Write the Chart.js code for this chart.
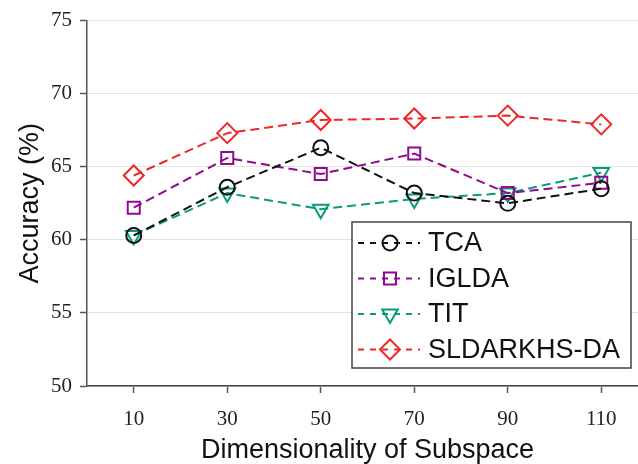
<!DOCTYPE html>
<html>
<head>
<meta charset="utf-8">
<script src="https://cdn.jsdelivr.net/npm/chart.js@4"></script>
<style>
  html, body { margin: 0; padding: 0; background: #fff; overflow: hidden; }
  #wrap { width: 700px; height: 464px; }
</style>
</head>
<body>
<div id="wrap"><canvas id="accChart" width="700" height="464" style="width:700px;height:464px"></canvas></div>
<script>
// dimensionality of subspace
const dims = ['10', '30', '50', '70', '90', '110'];
const yTicks = [50, 55, 60, 65, 70, 75];

// accuracy (%) per method
const tca = [60.3, 63.6, 66.3, 63.2, 62.5, 63.5];
const iglda = [62.2, 65.6, 64.5, 65.9, 63.2, 63.9];
const tit = [60.3, 63.2, 62.1, 62.8, 63.2, 64.6];
const sldarkhs = [64.4, 67.3, 68.2, 68.3, 68.5, 67.9];

const sansFont = '"Liberation Sans", Arial, sans-serif';
const serifFont = '"Liberation Serif", "Times New Roman", serif';

function series(label, data, color, style, radius, rotation) {
    return {
        label: label,
        data: data,
        borderColor: color,
        backgroundColor: color,
        borderWidth: 2,
        borderDash: [9, 5],
        pointStyle: style,
        pointRadius: radius,
        pointRotation: rotation || 0,
        pointBorderWidth: 2,
        pointBorderColor: color,
        pointBackgroundColor: 'rgba(0,0,0,0)',
        tension: 0,
        fill: false
    };
}

// legend box drawn inside the plot, lower right
const boxLegend = {
    id: 'boxLegend',
    afterDraw(chart) {
        const ctx = chart.ctx;
        const x0 = 352, y0 = 222, w = 279, h = 146;
        ctx.save();
        ctx.fillStyle = '#fff';
        ctx.fillRect(x0, y0, w, h);
        ctx.strokeStyle = '#444';
        ctx.lineWidth = 1.5;
        ctx.strokeRect(x0, y0, w, h);
        ctx.font = '27px ' + sansFont;
        ctx.textBaseline = 'middle';
        chart.data.datasets.forEach((ds, i) => {
            const cy = y0 + 21 + i * 35.5;
            ctx.strokeStyle = ds.borderColor;
            ctx.lineWidth = 2;
            ctx.setLineDash([6, 6]);
            ctx.beginPath();
            ctx.moveTo(x0 + 6, cy);
            ctx.lineTo(x0 + 68, cy);
            ctx.stroke();
            ctx.setLineDash([]);
            ctx.fillStyle = 'rgba(0,0,0,0)';
            Chart.helpers.drawPoint(ctx, {
                pointStyle: ds.pointStyle,
                radius: ds.pointRadius,
                rotation: ds.pointRotation,
                borderWidth: 2
            }, x0 + 38, cy);
            ctx.fillStyle = '#111';
            ctx.fillText(ds.label, x0 + 76, cy + 1);
        });
        ctx.restore();
    }
};

const chart = new Chart(document.getElementById('accChart'), {
    type: 'line',
    data: {
        labels: dims,
        datasets: [
            series('TCA', tca, '#111111', 'circle', 7.5),
            series('IGLDA', iglda, '#8e0a8e', 'rect', 8.5),
            series('TIT', tit, '#0b9a7c', 'triangle', 9, 180),
            series('SLDARKHS-DA', sldarkhs, '#ee2727', 'rectRot', 10)
        ]
    },
    options: {
        responsive: false,
        devicePixelRatio: 1,
        animation: false,
        layout: { padding: { top: 17, left: 0, right: 52, bottom: 0 } },
        plugins: {
            legend: { display: false },
            tooltip: { enabled: false }
        },
        scales: {
            x: {
                type: 'category',
                offset: true,
                afterFit: s => { s.height = 78; },
                grid: {
                    offset: false,
                    drawOnChartArea: false,
                    tickLength: 7,
                    tickColor: '#555',
                    tickWidth: 1.5
                },
                border: { color: '#444', width: 1.5 },
                ticks: {
                    color: '#222',
                    padding: 14,
                    font: { family: serifFont, size: 21 }
                },
                title: {
                    display: true,
                    text: 'Dimensionality of Subspace',
                    color: '#111',
                    font: { family: sansFont, size: 27, lineHeight: 1 },
                    padding: { top: 0, bottom: 0 }
                }
            },
            y: {
                min: 50,
                max: 75,
                afterFit: s => { s.width = 87; },
                afterBuildTicks: s => { s.ticks = yTicks.map(v => ({ value: v })); },
                grid: {
                    color: '#e2e2e2',
                    lineWidth: 1,
                    tickLength: 7,
                    tickColor: '#555',
                    tickWidth: 1.5
                },
                border: { color: '#555', width: 1.5 },
                ticks: {
                    color: '#222',
                    padding: 8,
                    font: { family: serifFont, size: 21 }
                },
                title: {
                    display: true,
                    text: 'Accuracy (%)',
                    color: '#111',
                    font: { family: sansFont, size: 27, lineHeight: 1 },
                    padding: { top: 17, bottom: 0 }
                }
            }
        }
    },
    plugins: [boxLegend]
});
</script>
</body>
</html>
